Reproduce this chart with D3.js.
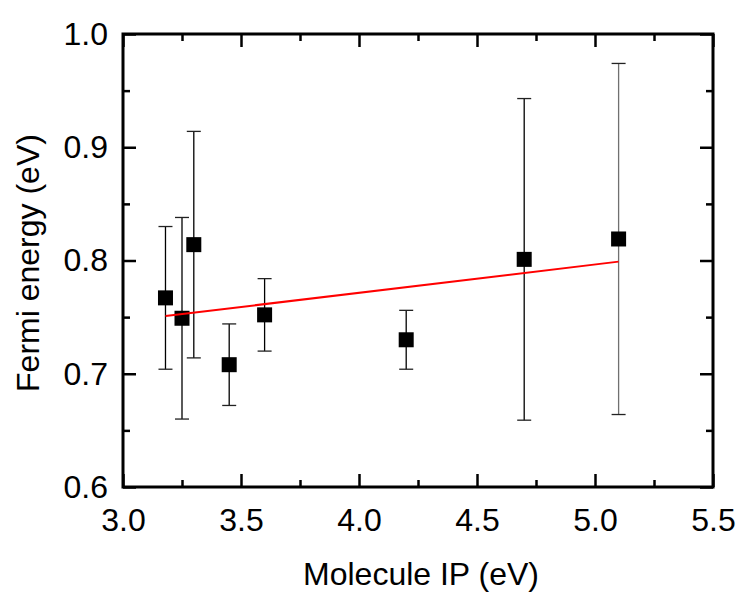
<!DOCTYPE html>
<meta charset="utf-8">
<style>
body { margin: 0; background: #fff; }
text { font-family: 'Liberation Sans', Arial, sans-serif; fill: #000; }
</style>
<body>
<svg width="743" height="594"></svg>
<script src="https://cdnjs.cloudflare.com/ajax/libs/d3/7.8.5/d3.min.js"></script>
<script>

// measured data
var ip = [3.18, 3.25, 3.30, 3.45, 3.60, 4.20, 4.70, 5.10];
var fermi = [0.767, 0.749, 0.814, 0.708, 0.752, 0.730, 0.801, 0.819];
var err = [0.063, 0.089, 0.100, 0.036, 0.032, 0.026, 0.142, 0.155];

// linear fit end points
var fitX = [3.18, 5.10];
var fitY = [0.751, 0.799];

var xTicks = [3.0, 3.5, 4.0, 4.5, 5.0, 5.5];
var yTicks = [0.6, 0.7, 0.8, 0.9, 1.0];

var svg = d3.select("svg");
var mLeft = 123, mRight = 713, mTop = 34, mBottom = 487;

var x = d3.scaleLinear().domain([3.0, 5.5]).range([mLeft, mRight]);
var y = d3.scaleLinear().domain([0.6, 1.0]).range([mBottom, mTop]);

var pts = ip.map(function(d, i) { return {x: d, y: fermi[i], e: err[i], i: i}; });

// error bars
var eb = svg.append("g").selectAll("g")
  .data(pts)
  .enter().append("g")
    .attr("stroke", function(d) { return d.i == 7 ? "#707070" : "#000"; })
    .attr("stroke-width", 1.3);

eb.append("line")
    .attr("x1", function(d) { return x(d.x); })
    .attr("x2", function(d) { return x(d.x); })
    .attr("y1", function(d) { return y(d.y + d.e); })
    .attr("y2", function(d) { return y(d.y - d.e); });

eb.selectAll(".cap")
  .data(function(d) { return [d.y + d.e, d.y - d.e].map(function(v) { return {x: d.x, v: v}; }); })
  .enter().append("line")
    .attr("class", "cap")
    .attr("stroke", "#222")
    .attr("x1", function(d) { return x(d.x) - 7; })
    .attr("x2", function(d) { return x(d.x) + 7; })
    .attr("y1", function(d) { return y(d.v); })
    .attr("y2", function(d) { return y(d.v); });

// squares
svg.append("g").selectAll("rect")
  .data(pts)
  .enter().append("rect")
    .attr("x", function(d) { return x(d.x) - 7.5; })
    .attr("y", function(d) { return y(d.y) - 7.5; })
    .attr("width", 15)
    .attr("height", 15)
    .attr("fill", "#000");

// fit line
svg.append("path")
    .datum(fitX.map(function(d, i) { return [d, fitY[i]]; }))
    .attr("fill", "none")
    .attr("stroke", "#ff0000")
    .attr("stroke-width", 2)
    .attr("d", d3.line().x(function(d) { return x(d[0]); }).y(function(d) { return y(d[1]); }));

// frame and ticks
function axisStyle(g) {
  g.select(".domain").remove();
  g.selectAll(".tick line").attr("stroke", "#000").attr("stroke-width", 2.5);
}
var xMinor = d3.range(3.25, 5.5, 0.5);
var yMinor = d3.range(0.65, 1.0, 0.1);

svg.append("g").attr("transform", "translate(0," + mBottom + ")")
    .call(d3.axisBottom(x).tickValues(xTicks).tickSize(-13).tickFormat(d3.format(".1f")).tickPadding(21))
    .call(axisStyle)
    .selectAll("text").attr("font-size", 32).attr("font-family", "'Liberation Sans', Arial, sans-serif");
svg.append("g").attr("transform", "translate(0," + mBottom + ")")
    .call(d3.axisBottom(x).tickValues(xMinor).tickSize(-7).tickFormat(""))
    .call(axisStyle);
svg.append("g").attr("transform", "translate(0," + mTop + ")")
    .call(d3.axisTop(x).tickValues(xTicks).tickSize(-13).tickFormat(""))
    .call(axisStyle);
svg.append("g").attr("transform", "translate(0," + mTop + ")")
    .call(d3.axisTop(x).tickValues(xMinor).tickSize(-7).tickFormat(""))
    .call(axisStyle);

svg.append("g").attr("transform", "translate(" + mLeft + ",0)")
    .call(d3.axisLeft(y).tickValues(yTicks).tickSize(-13).tickFormat(d3.format(".1f")).tickPadding(15))
    .call(axisStyle)
    .selectAll("text").attr("font-size", 32).attr("font-family", "'Liberation Sans', Arial, sans-serif");
svg.append("g").attr("transform", "translate(" + mLeft + ",0)")
    .call(d3.axisLeft(y).tickValues(yMinor).tickSize(-7).tickFormat(""))
    .call(axisStyle);
svg.append("g").attr("transform", "translate(" + mRight + ",0)")
    .call(d3.axisRight(y).tickValues(yTicks).tickSize(-13).tickFormat(""))
    .call(axisStyle);
svg.append("g").attr("transform", "translate(" + mRight + ",0)")
    .call(d3.axisRight(y).tickValues(yMinor).tickSize(-7).tickFormat(""))
    .call(axisStyle);

svg.append("rect")
    .attr("x", mLeft).attr("y", mTop)
    .attr("width", mRight - mLeft).attr("height", mBottom - mTop)
    .attr("fill", "none").attr("stroke", "#000").attr("stroke-width", 3);

// labels
svg.append("text")
    .attr("x", 421)
    .attr("y", 585)
    .attr("text-anchor", "middle")
    .attr("font-size", 32)
    .text("Molecule IP (eV)");

svg.append("text")
    .attr("transform", "translate(39,263) rotate(-90)")
    .attr("text-anchor", "middle")
    .attr("font-size", 32)
    .text("Fermi energy (eV)");

</script>
